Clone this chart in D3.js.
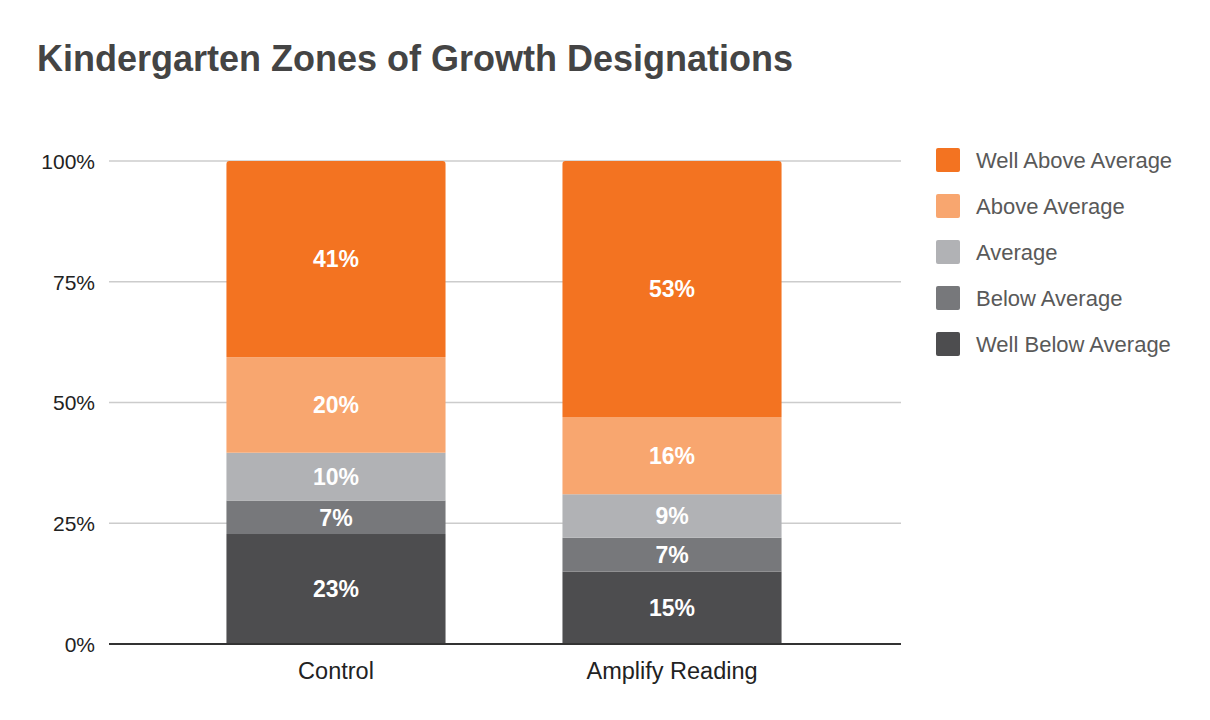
<!DOCTYPE html>
<html><head><meta charset="utf-8">
<script src="https://cdn.jsdelivr.net/npm/d3@7"></script>
<style>body{margin:0;background:#fff}svg{display:block;font-family:"Liberation Sans",Arial,sans-serif}</style>
</head><body>
<svg id="c" width="1210" height="720"></svg>
<script>
const categories = ["Control", "Amplify Reading"];
const seriesNames = ["Well Below Average", "Below Average", "Average", "Above Average", "Well Above Average"];
const wellBelow = [23, 15];
const below = [7, 7];
const average = [10, 9];
const above = [20, 16];
const wellAbove = [41, 53];
const seriesColors = ["#4d4d4f", "#77787b", "#b1b2b5", "#f8a66f", "#f37321"];
const yTicks = [0, 0.25, 0.5, 0.75, 1];
const yTickLabels = ["0%", "25%", "50%", "75%", "100%"];

const seriesValues = [wellBelow, below, average, above, wellAbove];
const rows = categories.map((c, i) => {
  const r = {cat: c};
  seriesNames.forEach((s, k) => r[s] = seriesValues[k][i]);
  return r;
});

const FF = '"Liberation Sans", Arial, sans-serif';
const svg = d3.select("#c");
const m = {l: 109, r: 901, t: 161, b: 644};
const x = d3.scaleBand().domain(categories).range([108, 900]).paddingInner(0.348).paddingOuter(0.3525);
const y = d3.scaleLinear().domain([0, 1]).range([m.b, m.t]);

svg.append("text").attr("x", 37).attr("y", 71).attr("font-size", 36).attr("font-weight", "bold")
  .attr("fill", "#444").text("Kindergarten Zones of Growth Designations");

// gridlines
svg.append("g").selectAll("line").data(yTicks.slice(1)).join("line")
  .attr("x1", m.l).attr("x2", m.r).attr("y1", d => y(d)).attr("y2", d => y(d))
  .attr("stroke", "#cccccc").attr("stroke-width", 1.5);

// y axis labels
const yAxis = d3.axisLeft(y).tickValues(yTicks).tickFormat((d, i) => yTickLabels[i]).tickSize(0).tickPadding(14);
const ya = svg.append("g").attr("transform", `translate(${m.l},0)`).call(yAxis);
ya.select(".domain").remove();
ya.selectAll("text").attr("font-size", 21).attr("fill", "#222").attr("font-family", FF).attr("dy", "0.35em");

const stack = d3.stack().keys(seriesNames).offset(d3.stackOffsetExpand);
const layers = stack(rows);

const g = svg.append("g");
layers.forEach((layer, k) => {
  const isTop = k === layers.length - 1;
  layer.forEach(d => {
    const x0 = x(d.data.cat), w = x.bandwidth();
    const yTop = y(d[1]), yBot = y(d[0]);
    if (isTop) {
      const r = 3;
      g.append("path").attr("fill", seriesColors[k])
        .attr("d", `M${x0},${yBot}V${yTop + r}Q${x0},${yTop} ${x0 + r},${yTop}H${x0 + w - r}Q${x0 + w},${yTop} ${x0 + w},${yTop + r}V${yBot}Z`);
    } else {
      g.append("rect").attr("x", x0).attr("y", yTop).attr("width", w).attr("height", yBot - yTop).attr("fill", seriesColors[k]);
    }
    g.append("text").attr("x", x0 + w / 2).attr("y", (yTop + yBot) / 2).attr("dy", "0.36em")
      .attr("text-anchor", "middle").attr("font-size", 23).attr("font-weight", "bold").attr("fill", "#fff")
      .text(d.data[layer.key] + "%");
  });
});

// baseline
svg.append("line").attr("x1", m.l).attr("x2", m.r).attr("y1", m.b).attr("y2", m.b).attr("stroke", "#333").attr("stroke-width", 2);

// x axis
const xAxis = d3.axisBottom(x).tickSize(0);
const xa = svg.append("g").attr("transform", `translate(0,${m.b})`).call(xAxis);
xa.select(".domain").remove();
xa.selectAll("text").attr("font-size", 23.5).attr("fill", "#222").attr("font-family", FF).attr("y", 35).attr("dy", null);

// legend
const legendOrder = seriesNames.slice().reverse();
const lg = svg.append("g").selectAll("g").data(legendOrder).join("g")
  .attr("transform", (d, i) => `translate(936,${148 + i * 46})`);
lg.append("rect").attr("width", 24).attr("height", 24).attr("rx", 2)
  .attr("fill", d => seriesColors[seriesNames.indexOf(d)]);
lg.append("text").attr("x", 40).attr("y", 12).attr("dy", "0.36em").attr("font-size", 22).attr("fill", "#595959").text(d => d);
</script>
</body></html>
